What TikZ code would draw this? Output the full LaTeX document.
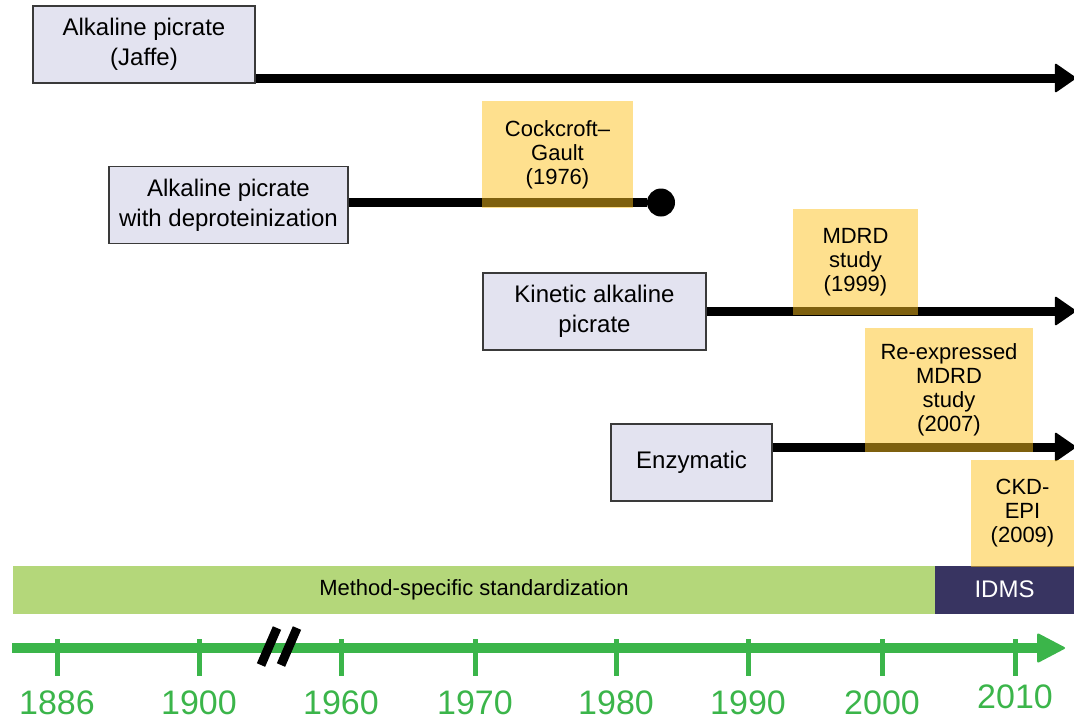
\documentclass[tikz,border=0pt]{standalone}
\usepackage{fontspec}
\setmainfont{Liberation Sans}
\usetikzlibrary{arrows.meta,positioning}
\definecolor{Lav}{RGB}{227,227,240}
\definecolor{Frame}{RGB}{58,58,58}
\definecolor{Sand}{RGB}{253,193,29}
\definecolor{Lime}{RGB}{180,215,122}
\definecolor{Navy}{RGB}{56,52,97}
\definecolor{Axis}{RGB}{59,181,74}
\tikzset{
 method/.style={draw=Frame,line width=0.9pt,fill=Lav,align=center,
   font=\fontsize{12}{15}\selectfont,inner sep=0pt,minimum height=38.5pt},
 eqn/.style={fill=Sand,fill opacity=0.5,text opacity=1,align=center,
   font=\fontsize{11}{12}\selectfont,inner sep=0pt,minimum height=53.5pt},
 trend/.style={line width=4.5pt,-{Triangle[length=11pt,width=15pt,line width=1pt,round]}},
 band/.style={inner sep=0pt,outer sep=0pt,minimum height=24pt,font=\fontsize{11}{13}\selectfont},
 year/.style={text=Axis,font=\fontsize{17}{20}\selectfont,inner sep=0pt}
}
\begin{document}
\begin{tikzpicture}[x=0.5pt,y=-0.5pt]
\useasboundingbox (0,0) rectangle (1074,720);
\clip (0,0) rectangle (1074,720);
% assays
\node[method,minimum width=111pt] (jaffe) at (144,44.5) {Alkaline picrate\\(Jaffe)};
\node[method,minimum width=119.5pt] (deprot) at (228.5,205) {Alkaline picrate\\with deproteinization};
\node[method,minimum width=111.5pt] (kinetic) at (594.5,311.5) {Kinetic alkaline\\picrate};
\node[method,minimum width=80.5pt] (enzym) at (691.5,462.5) {Enzymatic};
% line ends
\coordinate (e1) at (1076,78);
\node[circle,fill=black,inner sep=0pt,minimum size=14pt] (stop) at (661,202.5) {};
\coordinate (e3) at (1076,311);
\coordinate (e4) at (1076,447);
\draw[trend] (jaffe.east |- e1) -- (e1);
\draw[line width=4.5pt] (deprot.east |- stop) -- (stop);
\draw[trend] (kinetic.east |- e3) -- (e3);
\draw[trend] (enzym.east |- e4) -- (e4);
% equations
\node[eqn,minimum width=75.5pt] (cg) at (557.5,154.5) {Cockcroft–\\Gault\\(1976)};
\node[eqn,minimum width=62.5pt,minimum height=53pt] (mdrd) at (855.5,262) {MDRD\\study\\(1999)};
\node[eqn,minimum width=84pt,minimum height=62pt] (remdrd) at (949,390) {Re-expressed\\MDRD\\study\\(2007)};
% standardization
\node[band,fill=Lime,minimum width=461pt] (stdz) at (474,589.5) {Method-specific standardization};
\node[band,fill=Navy,text=white,minimum width=69.5pt,right=0pt of stdz,
  font=\fontsize{12}{14}\selectfont] (idms) {IDMS};
\node[eqn,minimum width=51.5pt] (ckd) at (1022.5,513.5) {CKD-\\EPI\\(2009)};
% time axis
\coordinate (t0) at (12,648);
\coordinate (t1) at (1065,648);
\draw[Axis,line width=5pt,-{Triangle[length=14.5pt,width=15pt,line width=1pt,round]}] (t0) -- (t1);
\foreach \x/\yr/\h in {57/1886/703,199/1900/703,341/1960/703,475/1970/703,
  616/1980/703,748/1990/703,882/2000/703,1015/2010/697}{
  \draw[Axis,line width=2.5pt] (\x,639) -- (\x,676);
  \node[year] (y\yr) at (\x,\h) {\yr};
}
% axis break
\draw[line width=4.5pt] (261,665) -- (277,628) (281,665) -- (297,628);
\end{tikzpicture}
\end{document}
